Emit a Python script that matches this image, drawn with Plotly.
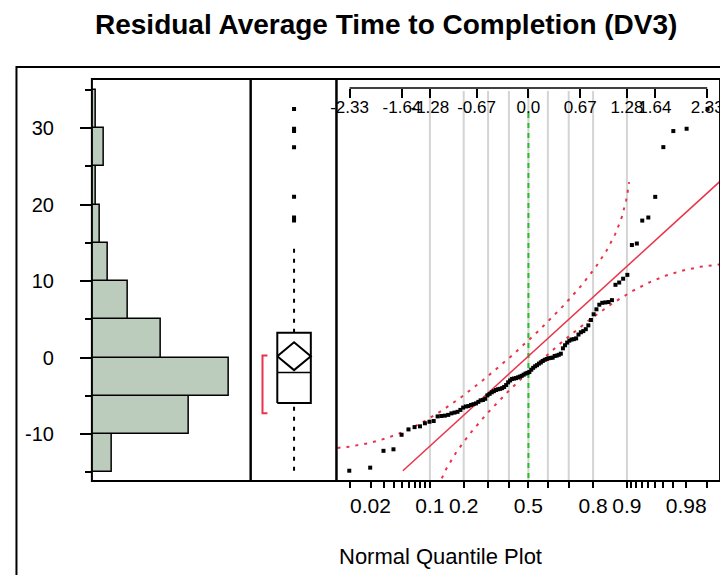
import numpy as np
import plotly.graph_objects as go
from statistics import NormalDist

ND = NormalDist()

# ---------------- data ----------------
residuals = [-14.8, -14.4, -12.2, -12.0, -10.1,
             -9.4, -9.1, -9.0, -8.6, -8.4, -8.3,
             -7.7, -7.65, -7.6, -7.5, -7.3, -7.2, -7.1,
             -6.85, -6.55, -6.4, -6.35, -6.2, -6.1, -6.0, -5.8, -5.6, -5.55, -5.4,
             -4.95, -4.75, -4.55, -4.4, -4.25, -4.15, -4.1, -4.0, -3.85, -3.6,
             -3.25, -3.0, -2.8, -2.75, -2.7, -2.6, -2.5, -2.4, -2.25, -2.1,
             -2.0, -1.9, -1.6, -1.35, -1.15, -1.0, -0.8, -0.65, -0.45, -0.3, -0.2, -0.1, -0.05, -0.02,
             0.2, 0.25, 0.35, 0.5, 1.2, 1.6, 1.95, 2.2, 2.35, 2.4, 2.5,
             3.0, 3.3, 3.45, 3.7, 4.2, 4.9, 5.65, 6.3, 6.9, 7.15, 7.2, 7.25, 7.5,
             9.5, 9.8, 10.3, 10.8, 14.7, 14.9,
             17.9, 18.3, 21.0, 27.5, 29.6, 29.9, 32.5]
bin_edges = [-15, -10, -5, 0, 5, 10, 15, 20, 25, 30, 35]
y_tick_vals = [-10, 0, 10, 20, 30]
y_tick_text = ["-10", "0", "10", "20", "30"]
y_minor_vals = [-15, -5, 5, 15, 25, 35]
top_z_vals = [-2.326, -1.645, -1.282, -0.674, 0.0, 0.674, 1.282, 1.645, 2.326]
top_z_text = ["-2.33", "-1.64", "-1.28", "-0.67", "0.0", "0.67", "1.28", "1.64", "2.33"]
prob_ticks = [0.01, 0.02, 0.03, 0.04, 0.05, 0.06, 0.07, 0.08, 0.09,
              0.1, 0.2, 0.3, 0.4, 0.5, 0.6, 0.7, 0.8, 0.9,
              0.91, 0.92, 0.93, 0.94, 0.95, 0.96, 0.97, 0.98, 0.99]
prob_labels = {0.02: "0.02", 0.1: "0.1", 0.2: "0.2", 0.5: "0.5", 0.8: "0.8", 0.9: "0.9", 0.98: "0.98"}
grid_probs = [0.1, 0.2, 0.3, 0.4, 0.5, 0.6, 0.7, 0.8, 0.9]

# ---------------- statistics ----------------
v = np.sort(np.array(residuals))
n = len(v)
counts, _ = np.histogram(v, bins=bin_edges)
centers = [(a + b) / 2 for a, b in zip(bin_edges[:-1], bin_edges[1:])]
mean = v.mean()
sd = v.std(ddof=1)
q1, med, q3 = np.percentile(v, [25, 50, 75], method="weibull")
iqr = q3 - q1
lo_fence, hi_fence = q1 - 1.5 * iqr, q3 + 1.5 * iqr
inside = v[(v >= lo_fence) & (v <= hi_fence)]
wlo, whi = inside.min(), inside.max()
outliers = v[(v < lo_fence) | (v > hi_fence)]
ci = 1.984 * sd / np.sqrt(n)
half = n // 2
ranges = [v[i + half - 1] - v[i] for i in range(n - half + 1)]
k = int(np.argmin(ranges))
sh_lo, sh_hi = v[k], v[k + half - 1]
z_pts = np.array([ND.inv_cdf(i / (n + 1)) for i in range(1, n + 1)])

# ---------------- layout helpers ----------------
OFFX, OFFY = 10, 8            # where the figure sits inside the page
W, H = 720, 575 - OFFY
def px(x): return (x - OFFX) / W
def py(y): return 1 - (y - OFFY) / H

V0, VS = 357.5, 7.65          # pixel of value 0, pixels per unit
y_range = [(V0 - 481) / VS, (V0 - 79) / VS]
Z0, ZS = 531.65, 77.96
z_range = [(337 - Z0) / ZS, (726 - Z0) / ZS]

RED = "rgb(232,52,74)"
GREEN = "rgb(40,190,40)"
FILL = "rgb(188,204,188)"
FONT = "Liberation Sans, Arial, sans-serif"

fig = go.Figure()

# histogram
fig.add_trace(go.Bar(y=centers, x=counts, orientation="h", width=5,
                     marker=dict(color=FILL, line=dict(color="black", width=1.5)),
                     xaxis="x", yaxis="y", hoverinfo="skip"))

# box plot (panel units 0..87)
BC, BH = 44, 17
fig.add_trace(go.Scatter(x=[BC, BC], y=[wlo, q1], mode="lines",
                         line=dict(color="black", width=2, dash="4px,6px"), xaxis="x2", yaxis="y"))
fig.add_trace(go.Scatter(x=[BC, BC], y=[q3, whi], mode="lines",
                         line=dict(color="black", width=2, dash="4px,6px"), xaxis="x2", yaxis="y"))
fig.add_trace(go.Scatter(x=[BC - BH, BC + BH, BC + BH, BC - BH, BC - BH], y=[q1, q1, q3, q3, q1],
                         mode="lines", line=dict(color="black", width=2), xaxis="x2", yaxis="y"))
fig.add_trace(go.Scatter(x=[BC - BH, BC + BH], y=[med, med], mode="lines",
                         line=dict(color="black", width=1.5), xaxis="x2", yaxis="y"))
fig.add_trace(go.Scatter(x=[BC - BH, BC, BC + BH, BC, BC - BH],
                         y=[mean, mean + ci, mean, mean - ci, mean],
                         mode="lines", line=dict(color="black", width=2), xaxis="x2", yaxis="y"))
fig.add_trace(go.Scatter(x=[17, 12, 12, 17], y=[sh_hi, sh_hi, sh_lo, sh_lo], mode="lines",
                         line=dict(color=RED, width=2), xaxis="x2", yaxis="y"))
fig.add_trace(go.Scatter(x=[BC] * len(outliers), y=outliers, mode="markers",
                         marker=dict(symbol="square", size=4, color="black"), xaxis="x2", yaxis="y"))

# normal quantile plot
zg = np.linspace(-2.6, 2.6, 400)
pg = np.array([ND.cdf(z) for z in zg])
D = 0.886 / np.sqrt(n)
pmin, pmax = 0.0064, 0.9936
up_mask = (pg + D) <= pmax
lo_mask = (pg - D) >= pmin
up_v = [mean + sd * ND.inv_cdf(p + D) for p in pg[up_mask]]
lo_v = [mean + sd * ND.inv_cdf(p - D) for p in pg[lo_mask]]
fig.add_trace(go.Scatter(x=zg[up_mask], y=up_v, mode="lines",
                         line=dict(color=RED, width=2, dash="3px,6px"), xaxis="x3", yaxis="y"))
fig.add_trace(go.Scatter(x=zg[lo_mask], y=lo_v, mode="lines",
                         line=dict(color=RED, width=2, dash="3px,6px"), xaxis="x3", yaxis="y"))
z_start = (v.min() - mean) / sd
fig.add_trace(go.Scatter(x=[z_start, 2.6], y=[mean + sd * z_start, mean + sd * 2.6], mode="lines",
                         line=dict(color=RED, width=1.5), xaxis="x3", yaxis="y"))
fig.add_trace(go.Scatter(x=z_pts, y=v, mode="markers",
                         marker=dict(symbol="square", size=4, color="black"), xaxis="x3", yaxis="y",
                         cliponaxis=False))
# invisible anchor trace so the top quantile axis is drawn
fig.add_trace(go.Scatter(x=[0], y=[0], mode="markers", marker=dict(opacity=0), xaxis="x4", yaxis="y",
                         hoverinfo="skip"))

shapes = []
for p in grid_probs:
    z = ND.inv_cdf(p)
    shapes.append(dict(type="line", xref="x3", yref="paper", x0=z, x1=z, y0=py(91), y1=py(481),
                       line=dict(color="rgb(212,212,212)", width=2), layer="below"))
shapes.append(dict(type="line", xref="x3", yref="paper", x0=0, x1=0, y0=py(113), y1=py(481),
                   line=dict(color=GREEN, width=2, dash="5px,5px"), layer="below"))
shapes.append(dict(type="line", xref="x3", yref="paper", x0=top_z_vals[0], x1=top_z_vals[-1],
                   y0=py(88), y1=py(88), line=dict(color="black", width=1.5)))
# frames
shapes.append(dict(type="rect", xref="paper", yref="paper", x0=px(12.5), x1=1.3, y0=-0.3, y1=py(67),
                   line=dict(color="black", width=2)))
for a, b in [(89, 250), (250, 337), (337, 726)]:
    shapes.append(dict(type="rect", xref="paper", yref="paper", x0=px(a), x1=px(b), y0=py(481), y1=py(79),
                       line=dict(color="black", width=2)))

tick_z = [ND.inv_cdf(p) for p in prob_ticks]
tick_t = [prob_labels.get(p, "") for p in prob_ticks]

fig.update_layout(
    width=W, height=H, margin=dict(l=0, r=0, t=0, b=0), autosize=False,
    paper_bgcolor="white", plot_bgcolor="rgba(0,0,0,0)", showlegend=False,
    font=dict(family=FONT, color="black"),
    bargap=0,
    xaxis=dict(domain=[px(89), px(250)], range=[0, 161 / 4.1], visible=False, anchor="y"),
    xaxis2=dict(domain=[px(250), px(337)], range=[0, 87], visible=False, anchor="y"),
    xaxis3=dict(domain=[px(337), px(726)], range=z_range, anchor="y",
                tickmode="array", tickvals=tick_z, ticktext=tick_t, ticks="outside", ticklen=6,
                tickwidth=1.5, tickcolor="black", tickangle=0, tickfont=dict(size=21),
                ticklabeloverflow="allow",
                showgrid=False, zeroline=False, showline=False),
    xaxis4=dict(overlaying="x3", anchor="free", position=py(88), side="bottom", range=z_range,
                tickmode="array", tickvals=top_z_vals, ticktext=top_z_text, ticks="outside", ticklen=9,
                tickwidth=1.5, tickcolor="black", tickangle=0, tickfont=dict(size=17),
                ticklabelstandoff=-5, ticklabeloverflow="allow",
                showgrid=False, zeroline=False, showline=False),
    yaxis=dict(domain=[py(481), py(79)], range=y_range, anchor="x",
               tickmode="array", tickvals=y_tick_vals, ticktext=y_tick_text, ticks="outside", ticklen=11,
               tickwidth=1.5, tickcolor="black", tickfont=dict(size=20), ticklabelstandoff=22,
               minor=dict(tickvals=y_minor_vals, ticks="outside", ticklen=6, tickwidth=1.5, tickcolor="black"),
               showgrid=False, zeroline=False, showline=False),
    shapes=shapes,
    annotations=[
        dict(text="<b>Residual Average Time to Completion (DV3)</b>", xref="paper", yref="paper",
             x=px(387), y=py(24), xanchor="center", yanchor="middle", showarrow=False,
             font=dict(size=28, family=FONT, color="black")),
        dict(text="Normal Quantile Plot", xref="paper", yref="paper", x=px(442), y=py(556),
             xanchor="center", yanchor="middle", showarrow=False, font=dict(size=22, family=FONT)),
    ],
)
fig.write_html("out.html")
